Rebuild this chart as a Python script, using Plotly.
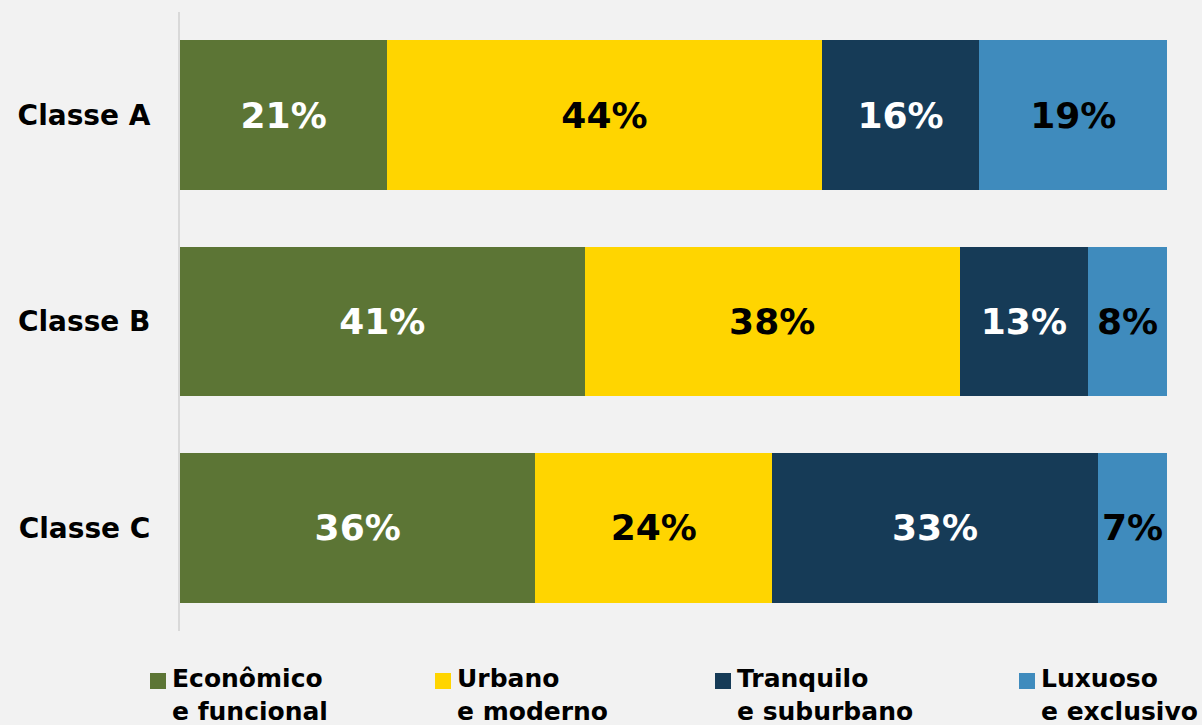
import plotly.graph_objects as go

# Share of each profile per social class (%)
classes = ["Classe A", "Classe B", "Classe C"]
series_names = ["Econômico<br>e funcional", "Urbano<br>e moderno",
                "Tranquilo<br>e suburbano", "Luxuoso<br>e exclusivo"]
economico = [21, 41, 36]
urbano = [44, 38, 24]
tranquilo = [16, 13, 33]
luxuoso = [19, 8, 7]

colors = ["#5c7535", "#ffd500", "#163b57", "#3f8bbd"]
label_colors = ["white", "black", "white", "black"]
FONT = "DejaVu Sans"

W, H = 1202, 725
ML, MR, MT, MB = 180, 35, 12, 94
PW, PH = W - ML - MR, H - MT - MB


def px_x(px):
    """Pixel column -> paper x."""
    return (px - ML) / PW


def px_y(py):
    """Pixel row -> paper y."""
    return (H - MB - py) / PH


fig = go.Figure()
for name, vals, col, tcol in zip(series_names,
                                 [economico, urbano, tranquilo, luxuoso],
                                 colors, label_colors):
    fig.add_trace(go.Bar(
        y=classes, x=vals, name=name, orientation="h",
        marker=dict(color=col, line=dict(width=0)),
        text=[f"{v}%" for v in vals], textposition="inside",
        insidetextanchor="middle", constraintext="none",
        textfont=dict(family=FONT, size=36, color=tcol, weight="bold"),
        hoverinfo="skip", showlegend=False,
    ))

# Legend row below the bars: colour square + two-line label
legend_sq_x = [150, 435, 715, 1019]
shapes, annotations = [], []
for name, col, sx in zip(series_names, colors, legend_sq_x):
    shapes.append(dict(
        type="rect", xref="paper", yref="paper",
        x0=px_x(sx), x1=px_x(sx + 16), y0=px_y(689), y1=px_y(673),
        fillcolor=col, line=dict(width=0),
    ))
    annotations.append(dict(
        xref="paper", yref="paper", x=px_x(sx + 20), y=px_y(662),
        xanchor="left", yanchor="top", align="left", showarrow=False,
        text=name,
        font=dict(family=FONT, size=25, color="black", weight="bold"),
    ))

fig.update_layout(
    barmode="stack",
    bargap=0.274,
    width=W, height=H,
    margin=dict(l=ML, r=MR, t=MT, b=MB),
    paper_bgcolor="#f2f2f2", plot_bgcolor="#f2f2f2",
    uniformtext=dict(minsize=36, mode="show"),
    showlegend=False,
    shapes=shapes,
    annotations=annotations,
    xaxis=dict(range=[0, 100], showgrid=False, zeroline=False,
               showticklabels=False, showline=False),
    yaxis=dict(autorange=False, range=[2.5, -0.5], showgrid=False,
               zeroline=False, showline=True, linecolor="#d9d9d9",
               linewidth=2, ticks="", ticklabelstandoff=22,
               tickfont=dict(family=FONT, size=28, color="black",
                             weight="bold")),
)

fig.write_html("out.html")
